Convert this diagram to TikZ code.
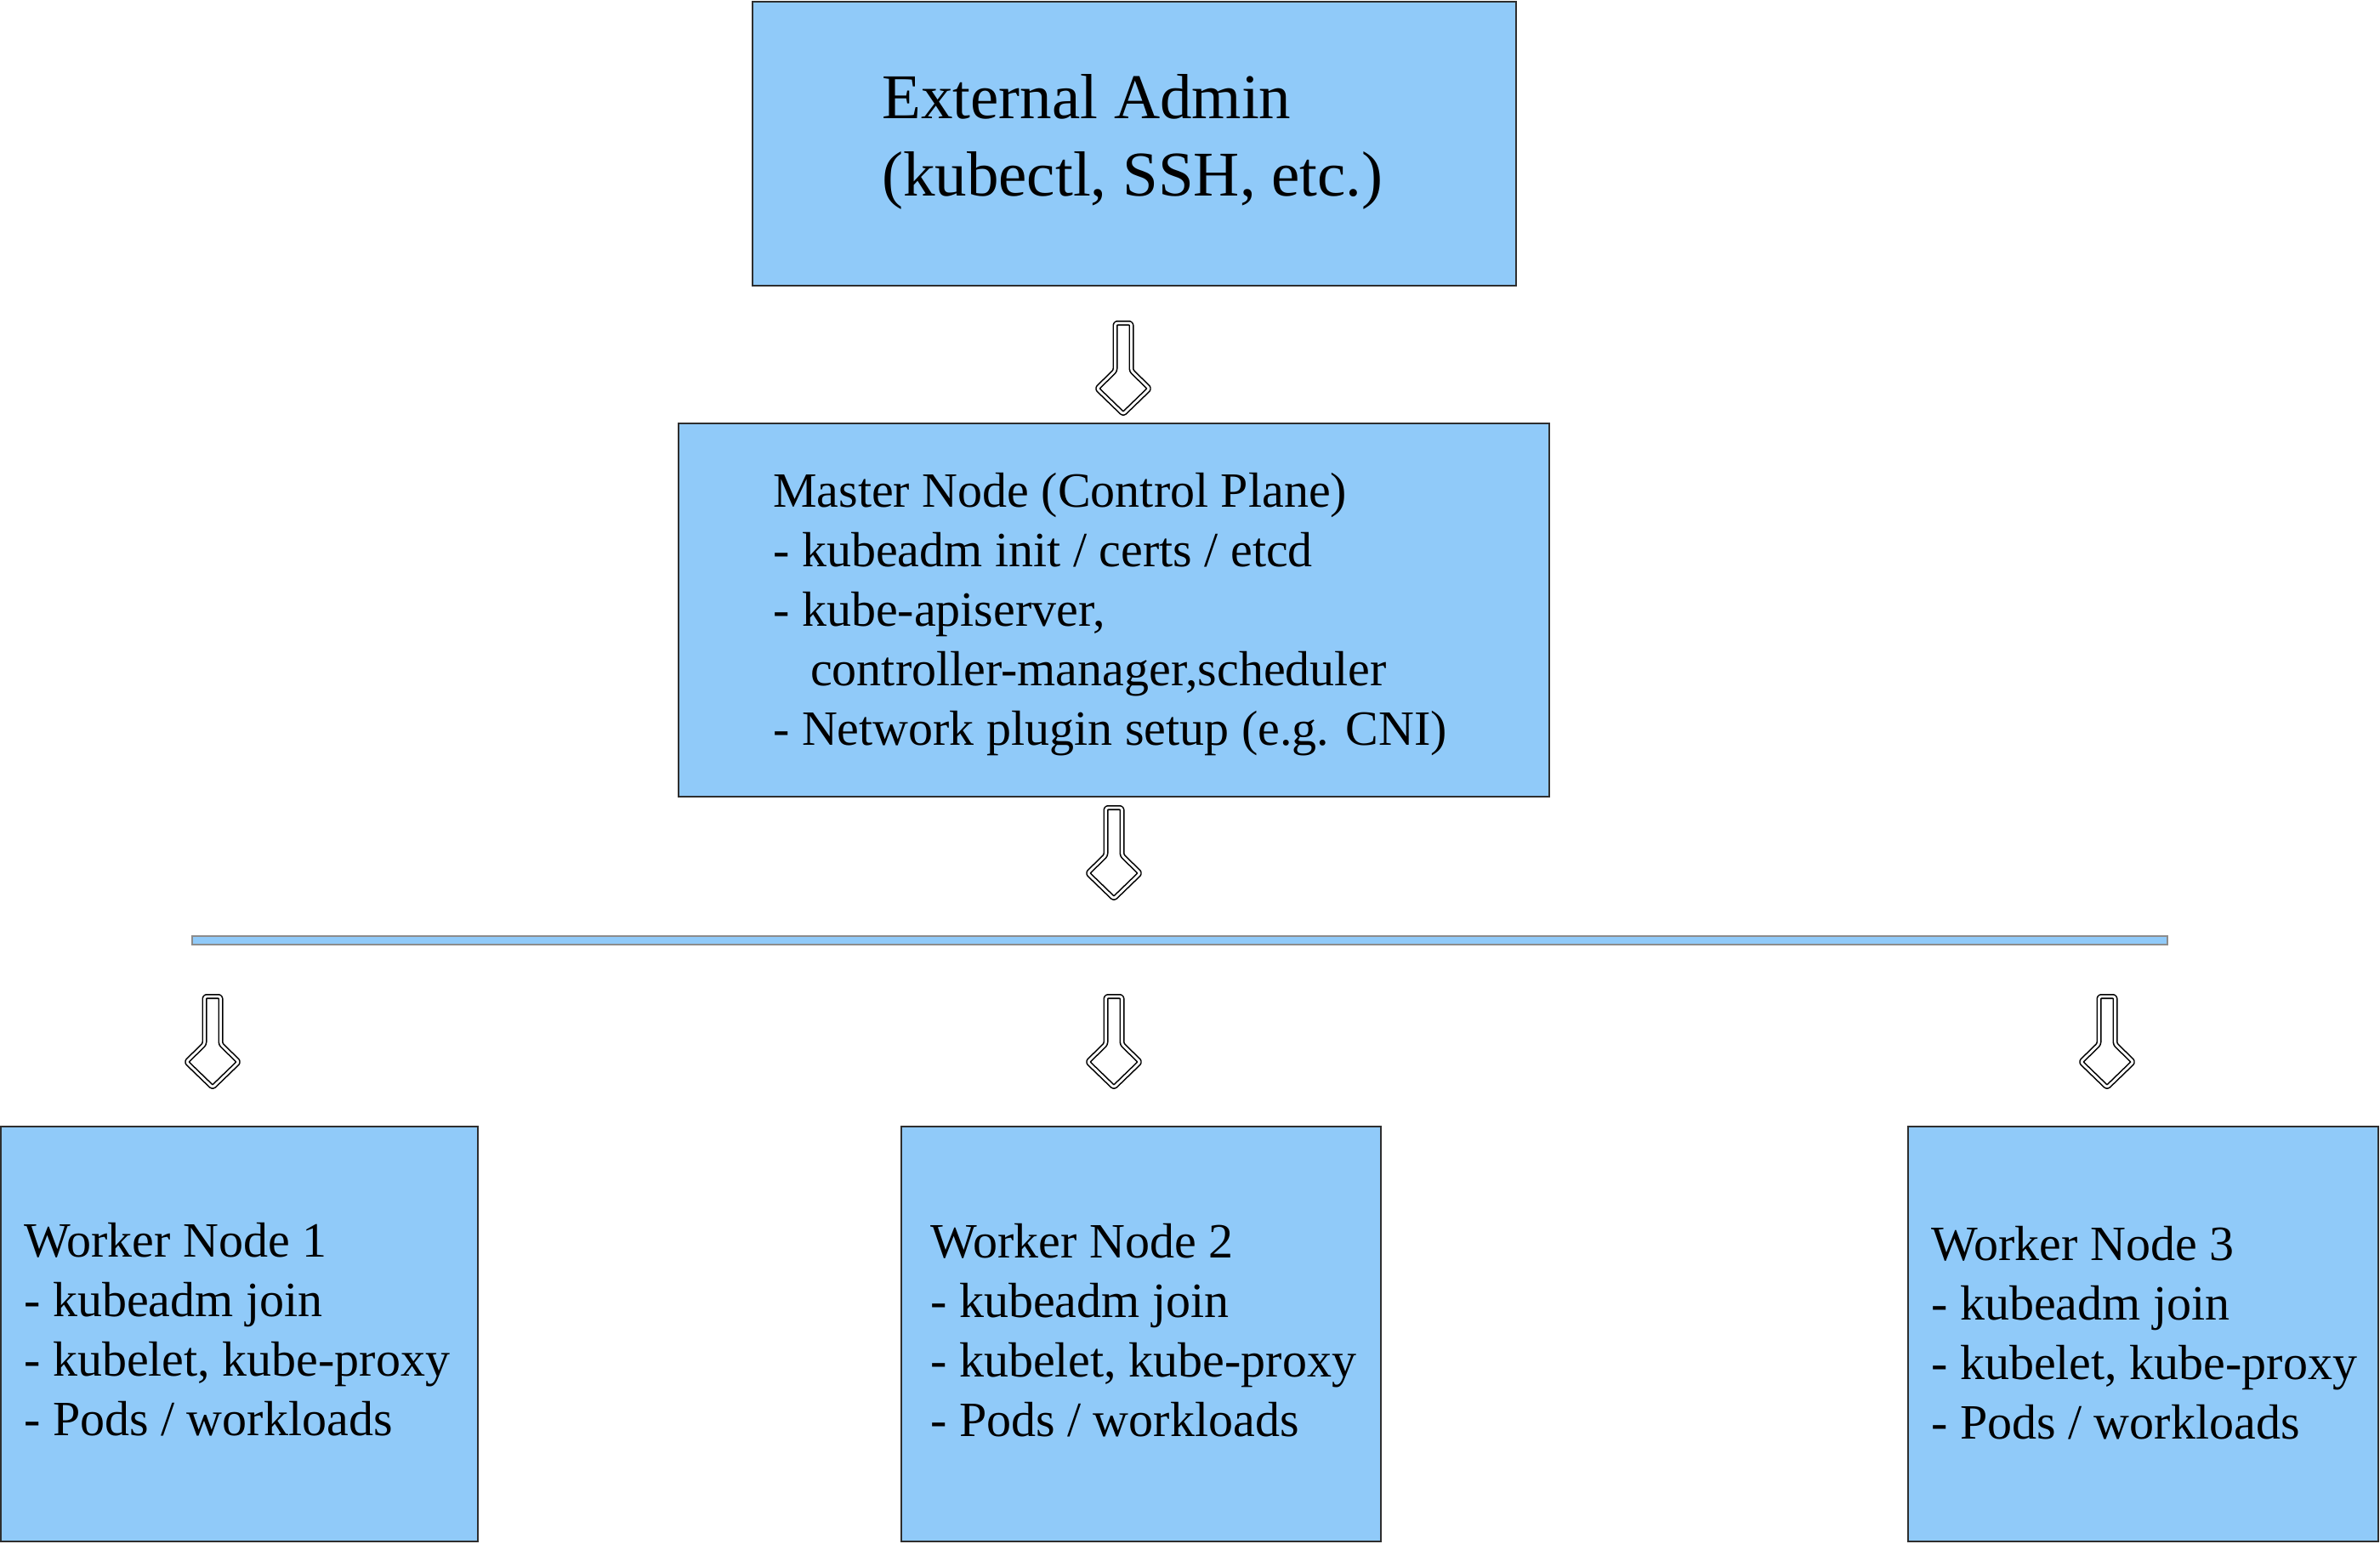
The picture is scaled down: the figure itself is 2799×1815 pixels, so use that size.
\documentclass[tikz,border=0pt]{standalone}
\usepackage{fontspec}
\setmainfont{Liberation Serif}
\definecolor{boxblue}{HTML}{90CAF9}
\definecolor{edge}{HTML}{2E2E2E}
\tikzset{
  box/.style={draw=edge, fill=boxblue, line width=2pt, inner sep=0pt, outer sep=0pt, anchor=north west},
  busbar/.style={draw=black!45, fill=boxblue, line width=1.2pt, inner sep=0pt, outer sep=0pt, anchor=north west},
  bigtxt/.style={anchor=base west, inner sep=0pt, font={\fontsize{75}{91}\selectfont}},
  txt/.style={anchor=base west, inner sep=0pt, font={\fontsize{58}{70}\selectfont}},
  arrowline/.style={draw=black, line width=1.6pt, double=white, double distance=2.8pt, fill=white, rounded corners=2.5pt, line join=round},
  dnarrow/.pic={\path[arrowline] (-9.5,-111) -- (-9.5,-55) -- (-31,-34) -- (0,-4) -- (31,-34) -- (9.5,-55) -- (9.5,-111) -- cycle;}
}
\begin{document}
\begin{tikzpicture}[x=1pt,y=-1pt]
\useasboundingbox (0,0) rectangle (2799,1815);
% External admin
\node[box, minimum width=898pt, minimum height=334pt] (ext) at (885,2) {};
\node[bigtxt] (extT) at (1037,139) {\begin{tabular}[t]{@{}l@{}}External Admin\\(kubectl, SSH, etc.)\end{tabular}};
% Master
\node[box, minimum width=1024pt, minimum height=439pt] (master) at (798,498) {};
\node[txt] (masterT) at (909,596) {\begin{tabular}[t]{@{}l@{}}Master Node (Control Plane)\\- kubeadm init / certs / etcd\\- kube-apiserver,\\\hspace*{44pt}controller-manager,scheduler\\- Network plugin setup (e.g. CNI)\end{tabular}};
% bus bar
\node[busbar, minimum width=2323pt, minimum height=10pt] (bus) at (226,1101) {};
% workers
\node[box, minimum width=561pt, minimum height=488pt] (w1) at (1,1325) {};
\node[txt] (w1T) at (28,1478) {\begin{tabular}[t]{@{}l@{}}Worker Node 1\\- kubeadm join\\- kubelet, kube-proxy\\- Pods / workloads\end{tabular}};
\node[box, minimum width=564pt, minimum height=488pt] (w2) at (1060,1325) {};
\node[txt] (w2T) at (1094,1479) {\begin{tabular}[t]{@{}l@{}}Worker Node 2\\- kubeadm join\\- kubelet, kube-proxy\\- Pods / workloads\end{tabular}};
\node[box, minimum width=553pt, minimum height=488pt] (w3) at (2244,1325) {};
\node[txt] (w3T) at (2271,1482) {\begin{tabular}[t]{@{}l@{}}Worker Node 3\\- kubeadm join\\- kubelet, kube-proxy\\- Pods / workloads\end{tabular}};
% arrows
\pic (a1) at (1321,491) {dnarrow};
\pic (a2) at (1310,1061) {dnarrow};
\pic (a3) at (250,1283) {dnarrow};
\pic (a4) at (1310,1283) {dnarrow};
\pic (a5) at (2478,1283) {dnarrow};
\end{tikzpicture}
\end{document}
